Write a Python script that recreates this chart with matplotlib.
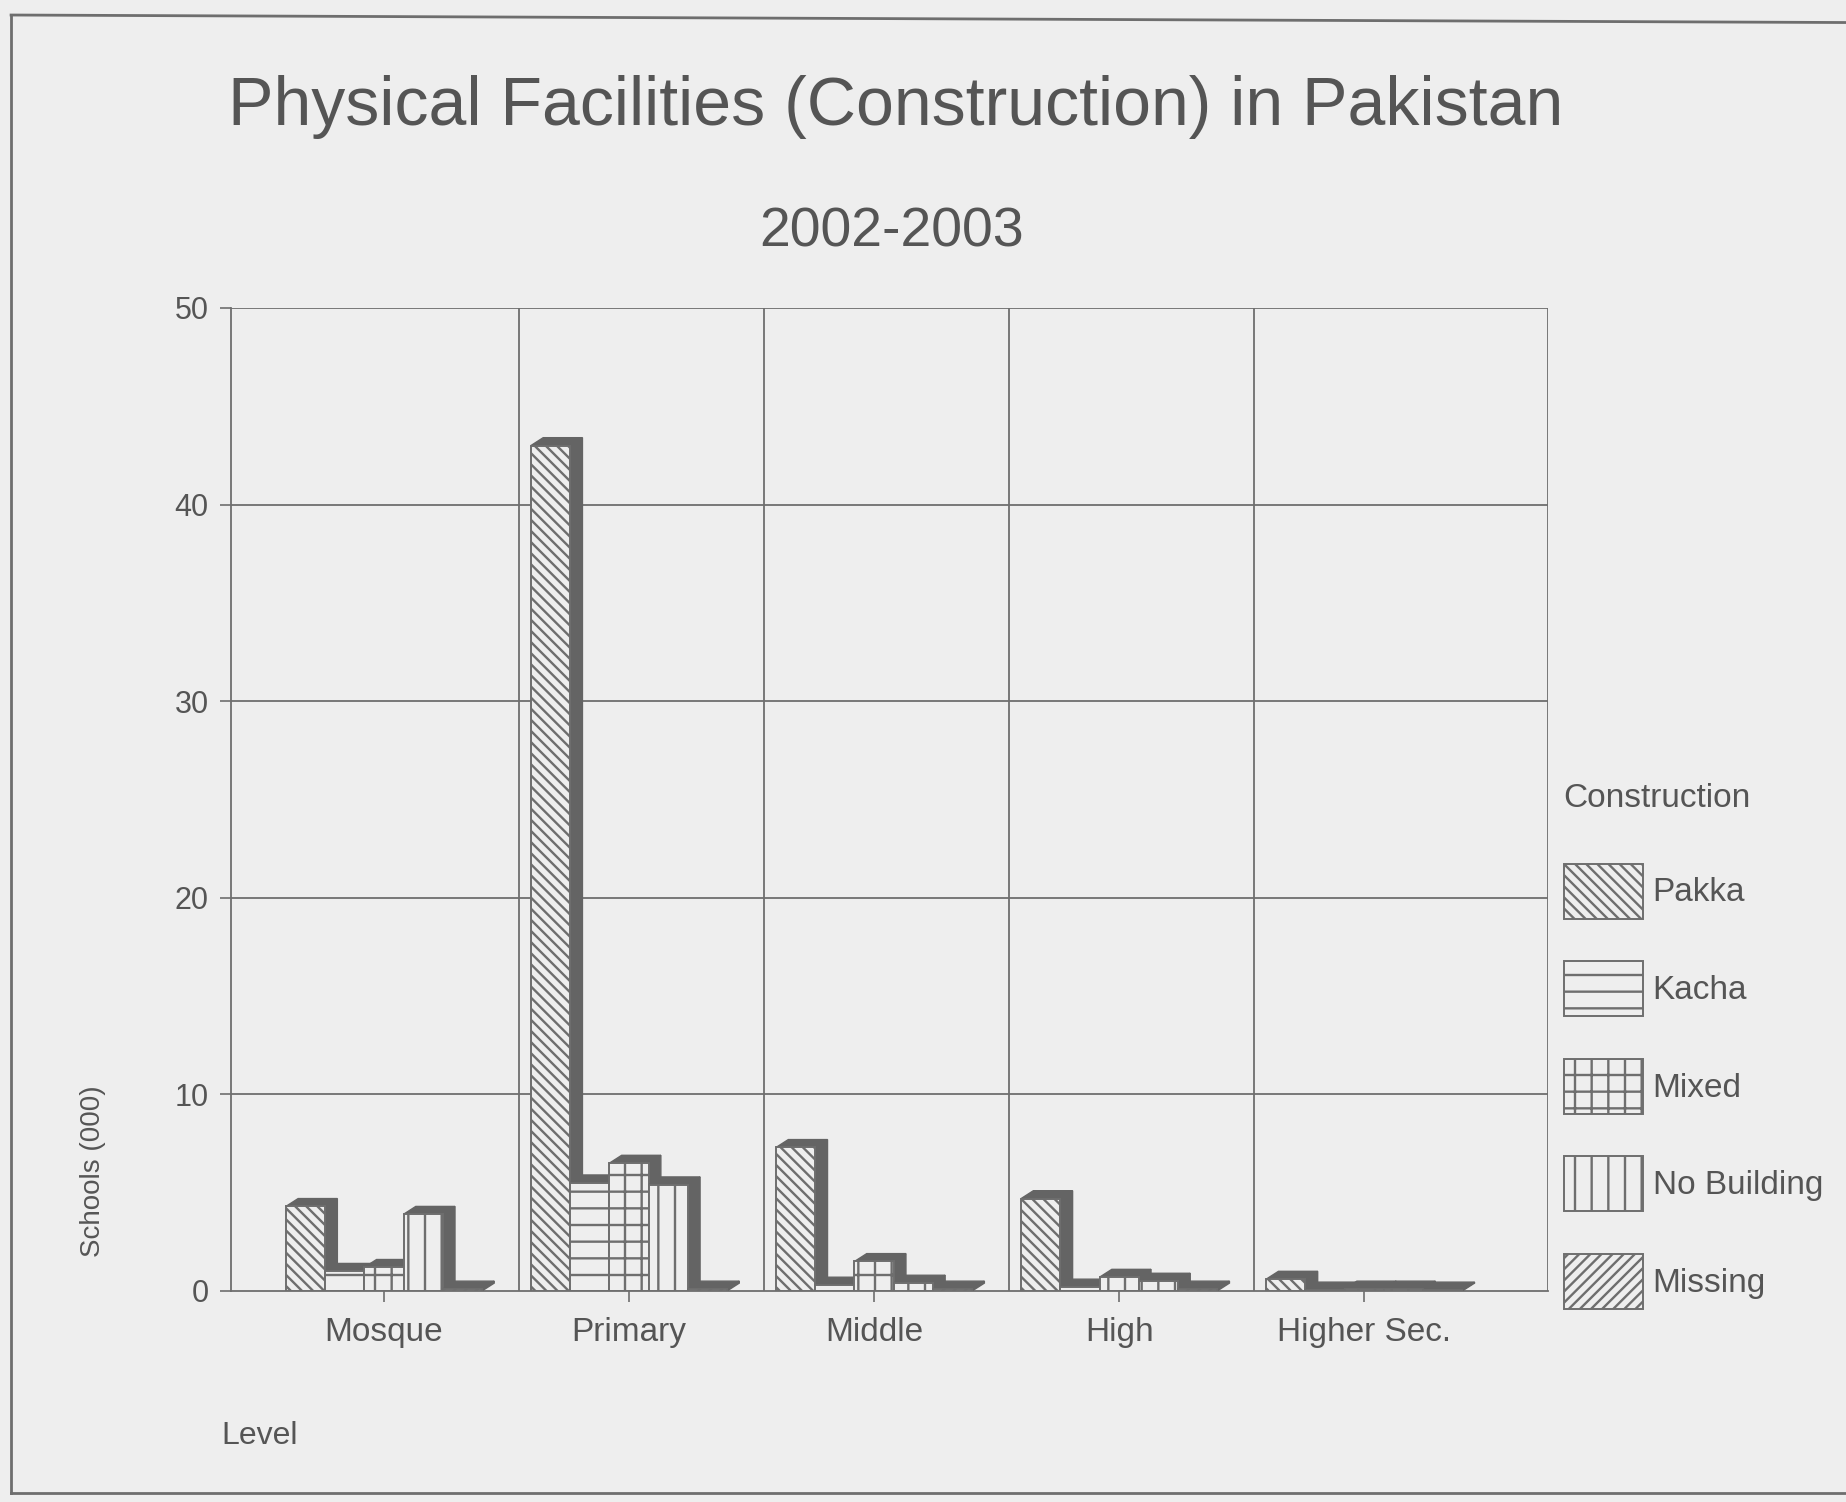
import numpy as np
import matplotlib.pyplot as plt
from matplotlib.patches import Polygon, Patch
from matplotlib.lines import Line2D

plt.rcParams['font.family'] = ['Liberation Sans', 'DejaVu Sans']
plt.rcParams['hatch.linewidth'] = 1.7

# Datos (miles de escuelas)
levels = ['Mosque', 'Primary', 'Middle', 'High', 'Higher Sec.']
series = ['Pakka', 'Kacha', 'Mixed', 'No Building', 'Missing']
pakka = [4.3, 43.0, 7.3, 4.7, 0.6]
kacha = [1.0, 5.5, 0.3, 0.2, 0.05]
mixed = [1.2, 6.5, 1.5, 0.7, 0.1]
no_building = [3.9, 5.4, 0.4, 0.5, 0.1]
missing = [0.1, 0.1, 0.1, 0.1, 0.05]
values = [pakka, kacha, mixed, no_building, missing]

hatches = ['\\\\\\', '-', '+', '|', '///']
yticks = np.arange(0, 51, 10)

# Colores
bg = '#eeeeee'
txt = '#555555'
line = '#6e6e6e'
dark = '#646464'

fig = plt.figure(figsize=(18.46, 15.02), dpi=100, facecolor=bg)
ax = fig.add_axes([0.125, 0.1405, 0.7136, 0.6545], facecolor=bg)

X = np.arange(len(levels))
width = 0.16
dx = 0.05   # profundidad (x)
dy = 0.4    # profundidad (y)

for i, (vals, hatch) in enumerate(zip(values, hatches)):
    xs = X + (i - 2) * width
    z = 3 + i
    for x, h in zip(xs, vals):
        x0 = x - width / 2
        x1 = x + width / 2
        # cara lateral y superior
        side = Polygon([(x1, 0), (x1 + dx, dy), (x1 + dx, h + dy), (x1, h)],
                       closed=True, facecolor=dark, edgecolor=dark, lw=1, zorder=z)
        top = Polygon([(x0, h), (x0 + dx, h + dy), (x1 + dx, h + dy), (x1, h)],
                      closed=True, facecolor=dark, edgecolor=dark, lw=1, zorder=z)
        ax.add_patch(side)
        ax.add_patch(top)
    ax.bar(xs, vals, width=width, facecolor=bg, edgecolor=line,
           hatch=hatch, linewidth=1.4, zorder=z + 0.5)

# Rejilla
for y in yticks[1:]:
    ax.axhline(y, color=line, lw=1.3, zorder=1)
for k in range(len(levels) - 1):
    ax.axvline(k + 0.55, color=line, lw=1.3, zorder=1)

ax.set_xlim(-0.625, 4.75)
ax.set_ylim(0, 50)

for s in ['top', 'right']:
    ax.spines[s].set_visible(False)
for s in ['left', 'bottom']:
    ax.spines[s].set_color(line)
    ax.spines[s].set_linewidth(1.3)
ax.plot([4.75, 4.75], [0, 50], color=line, lw=1.3, zorder=1)

# Eje X
ax.set_xticks(X)
ax.set_xticklabels(levels, fontsize=24, color=txt)
ax.tick_params(axis='x', length=8, width=1.2, color=line, pad=11)

# Eje Y
ax.set_yticks(yticks)
ax.set_yticklabels(yticks, fontsize=22, color=txt)
ax.tick_params(axis='y', length=8, width=1.2, color=line, pad=8)
ax.set_ylabel('Schools (000)', fontsize=20, color=txt)
ax.yaxis.set_label_coords(-0.095, 0.122)

# Títulos
fig.text(0.485, 0.929, 'Physical Facilities (Construction) in Pakistan',
         ha='center', va='center', fontsize=49, color=txt)
fig.text(0.483, 0.845, '2002-2003', ha='center', va='center',
         fontsize=40, color=txt)
fig.text(0.12, 0.044, 'Level', ha='left', va='center', fontsize=23, color=txt)

# Leyenda
handles = [Patch(facecolor=bg, edgecolor=line, hatch=h, lw=1.4) for h in hatches]
leg = fig.legend(handles, series, loc='upper left', bbox_to_anchor=(0.847, 0.479),
                 frameon=False, fontsize=24, title='Construction', title_fontsize=24,
                 handlelength=2.37, handleheight=2.16, labelspacing=1.28,
                 handletextpad=0.3, borderpad=0, borderaxespad=0, alignment='left')
for t in leg.get_texts():
    t.set_color(txt)
leg.get_title().set_color(txt)
leg._legend_box.sep = 36

# Marco
for xy in [([0.006, 0.006], [0.006, 0.99]), ([0.006, 1.0], [0.99, 0.985]),
           ([0.006, 1.0], [0.006, 0.006])]:
    fig.add_artist(Line2D(xy[0], xy[1], color=line, lw=2, transform=fig.transFigure))

plt.savefig('out.png', dpi=100, facecolor=bg)
